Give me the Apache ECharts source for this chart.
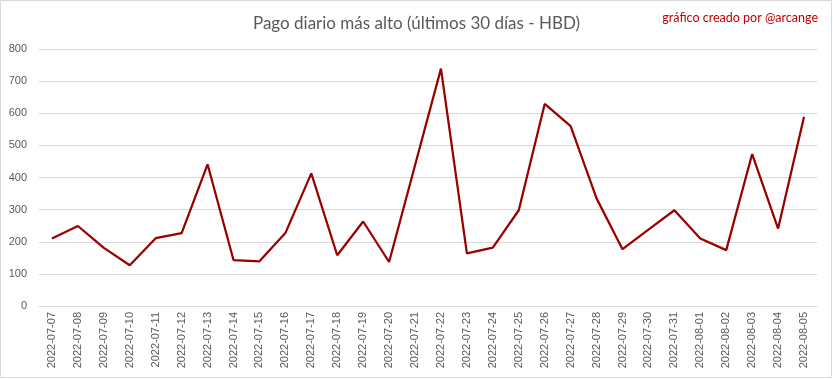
<!DOCTYPE html>
<html>
<head>
<meta charset="utf-8">
<script src="https://cdn.jsdelivr.net/npm/echarts@6/dist/echarts.min.js"></script>
<style>
html,body{margin:0;padding:0;background:#fff;}
#chart{width:833px;height:379px;}
</style>
</head>
<body>
<div id="chart"></div>
<script>
const titleText = "Pago diario más alto (últimos 30 días - HBD)";
const creditText = "gráfico creado por @arcange";
const categories = ["2022-07-07","2022-07-08","2022-07-09","2022-07-10","2022-07-11","2022-07-12","2022-07-13","2022-07-14","2022-07-15","2022-07-16","2022-07-17","2022-07-18","2022-07-19","2022-07-20","2022-07-21","2022-07-22","2022-07-23","2022-07-24","2022-07-25","2022-07-26","2022-07-27","2022-07-28","2022-07-29","2022-07-30","2022-07-31","2022-08-01","2022-08-02","2022-08-03","2022-08-04","2022-08-05"];
const values = [210,249,181,127,211,227,441,143,139,227,413,158,263,137,438,739,164,182,298,629,560,335,177,238,298,210,174,473,241,589];
const yMin = 0, yMax = 800, yInterval = 100;

const chart = echarts.init(document.getElementById('chart'), null, {renderer:'canvas'});
chart.setOption({
  animation:false,
  backgroundColor:'#ffffff',
  title:[{
    text:titleText, left:'center', top:10,
    textStyle:{fontFamily:'Lato', fontSize:17, fontWeight:'normal', color:'#595959'}
  },{
    text:creditText, right:10, top:6,
    textStyle:{fontFamily:'Lato', fontSize:12.5, fontWeight:'normal', color:'#C00000'}
  }],
  graphic:[{type:'rect', shape:{x:0.5,y:0.5,width:831,height:377}, style:{fill:'none', stroke:'#d9d9d9', lineWidth:1}, silent:true}],
  grid:{left:39, right:16, top:49, bottom:73},
  xAxis:{
    type:'category', data:categories, boundaryGap:true,
    axisLine:{lineStyle:{color:'#d9d9d9'}},
    axisTick:{show:false},
    axisLabel:{rotate:90, interval:0, fontFamily:'Liberation Sans', fontSize:11, color:'#595959', margin:6}
  },
  yAxis:{
    type:'value', min:yMin, max:yMax, interval:yInterval,
    axisLine:{show:false}, axisTick:{show:false},
    splitLine:{lineStyle:{color:'#d9d9d9', width:1}},
    axisLabel:{fontFamily:'Liberation Sans', fontSize:11, color:'#595959', margin:12}
  },
  series:[{
    type:'line', data:values, symbol:'none',
    lineStyle:{color:'#990000', width:2.25}, itemStyle:{color:'#990000'}
  }]
});
</script>
</body>
</html>
